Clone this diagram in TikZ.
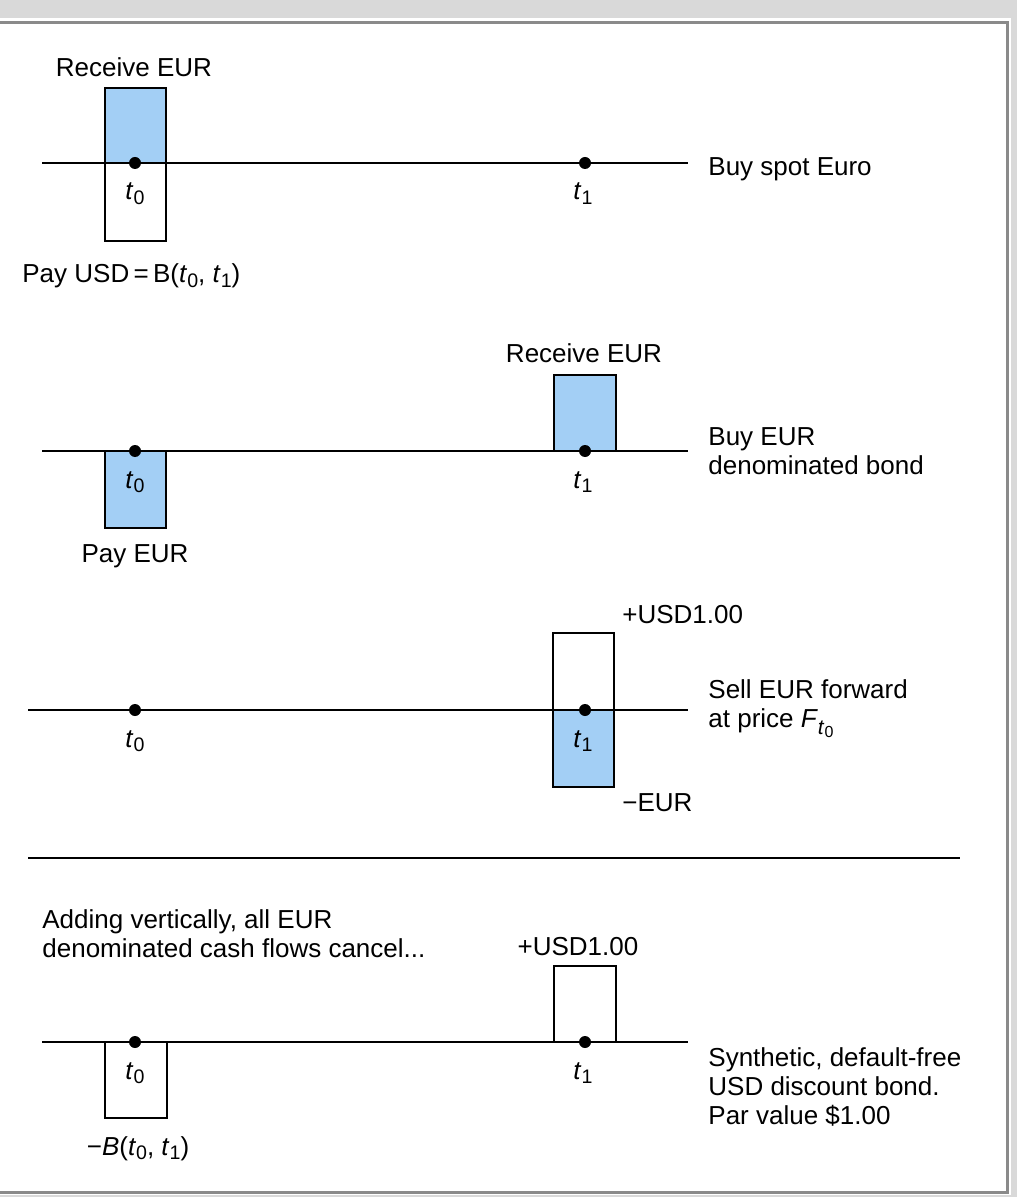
\documentclass[tikz,border=0pt]{standalone}
\usepackage{fontspec}
\setmainfont{Liberation Sans}
\usepackage{xcolor}
\usepackage{tikz}
\definecolor{cfblue}{RGB}{163,207,245}
\definecolor{rimgray}{RGB}{138,138,138}
\definecolor{bandgray}{RGB}{217,217,217}
\newcommand{\tsb}[1]{\textit{t}\raisebox{-0.35ex}{\fontsize{9.8}{10}\selectfont#1}}
\newcommand{\fsb}{\textit{F}\raisebox{-0.5ex}{\fontsize{10.5}{11}\selectfont\textit{t}\raisebox{-0.3ex}{\fontsize{8}{8}\selectfont 0}}}
\tikzstyle{cf_dot} = [circle, fill=black, draw=none, inner sep=0pt, minimum size=6pt]
\tikzstyle{cf_b} = [draw=black, fill=cfblue, line width=1.2pt]
\tikzstyle{cf_w} = [draw=black, fill=white, line width=1.2pt]
\tikzstyle{cf_ax} = [draw=black, line width=1pt]
\tikzstyle{cf_t} = [inner sep=0pt, anchor=base, font=\fontsize{13}{14.5}\selectfont]
\tikzstyle{cf_l} = [cf_t, anchor=base west]
\tikzstyle{cf_r} = [cf_t, anchor=north west, align=left]

\begin{document}
\begin{tikzpicture}[x=0.5pt, y=-0.5pt]
\useasboundingbox (0,0) rectangle (1017,1197);
% frame
\fill[bandgray] (0,0) rectangle (1017,18);
\fill[bandgray] (1011,0) rectangle (1017,1197);
\fill[bandgray] (0,1195) rectangle (1017,1197);
\draw[rimgray, line width=1.5pt] (0,22.5) -- (1007.5,22.5) -- (1007.5,1192.5) -- (0,1192.5);

% buy spot euro
\draw[cf_b] (105,88) rectangle (166,163);
\draw[cf_w] (105,163) rectangle (166,241);
\coordinate (a1w) at (42,163);
\coordinate (a1e) at (688,163);
\draw[cf_ax] (a1w) -- (a1e);
\node [cf_dot] (d1a) at (135,163) {};
\node [cf_dot] (d1b) at (585,163) {};
\node [cf_t] (rec1) at (134,77) {Receive EUR};
\node [cf_t] (t1a) at (135,200) {\tsb{0}};
\node [cf_t] (t1b) at (583,200) {\tsb{1}};
\node [cf_l] (pay1) at (22,283) {Pay USD\,=\,B(\tsb{0}, \tsb{1})};
\node [cf_l] (lab1) at (708,176) {Buy spot Euro};

% EUR bond
\draw[cf_b] (105,451) rectangle (166,528);
\draw[cf_b] (554,375) rectangle (616,451);
\coordinate (a2w) at (42,451);
\coordinate (a2e) at (688,451);
\draw[cf_ax] (a2w) -- (a2e);
\node [cf_dot] (d2a) at (135,451) {};
\node [cf_dot] (d2b) at (585,451) {};
\node [cf_t] (rec2) at (584,363) {Receive EUR};
\node [cf_t] (t2a) at (135,488) {\tsb{0}};
\node [cf_t] (t2b) at (583,488) {\tsb{1}};
\node [cf_t] (pay2) at (135,562) {Pay EUR};
\node [cf_r] (lab2) at (708,427) {Buy EUR\\denominated bond};

% forward
\draw[cf_w] (553,633) rectangle (614,710);
\draw[cf_b] (553,710) rectangle (614,787);
\coordinate (a3w) at (28,710);
\coordinate (a3e) at (688,710);
\draw[cf_ax] (a3w) -- (a3e);
\node [cf_dot] (d3a) at (135,710) {};
\node [cf_dot] (d3b) at (585,710) {};
\node [cf_t] (t3a) at (135,747) {\tsb{0}};
\node [cf_t] (t3b) at (583,747) {\tsb{1}};
\node [cf_l] (usd3) at (622,623) {+USD1.00};
\node [cf_l] (eur3) at (622,811) {−EUR};
\node [cf_r] (lab3) at (708,679) {Sell EUR forward\\at price \fsb};

% sum
\coordinate (sepw) at (28,858);
\coordinate (sepe) at (960,858);
\draw[cf_ax] (sepw) -- (sepe);
\node [cf_r] (note4) at (42,909) {Adding vertically, all EUR\\denominated cash flows cancel...};
\draw[cf_w] (105,1042) rectangle (167,1118);
\draw[cf_w] (554,966) rectangle (616,1042);
\coordinate (a4w) at (42,1042);
\coordinate (a4e) at (688,1042);
\draw[cf_ax] (a4w) -- (a4e);
\node [cf_dot] (d4a) at (135,1042) {};
\node [cf_dot] (d4b) at (585,1042) {};
\node [cf_t] (usd4) at (578,955) {+USD1.00};
\node [cf_t] (t4a) at (135,1079) {\tsb{0}};
\node [cf_t] (t4b) at (583,1079) {\tsb{1}};
\node [cf_t] (pay4) at (138,1155) {−\textit{B}(\tsb{0}, \tsb{1})};
\node [cf_r] (lab4) at (708,1047) {Synthetic, default-free\\USD discount bond.\\Par value \$1.00};
\end{tikzpicture}
\end{document}
